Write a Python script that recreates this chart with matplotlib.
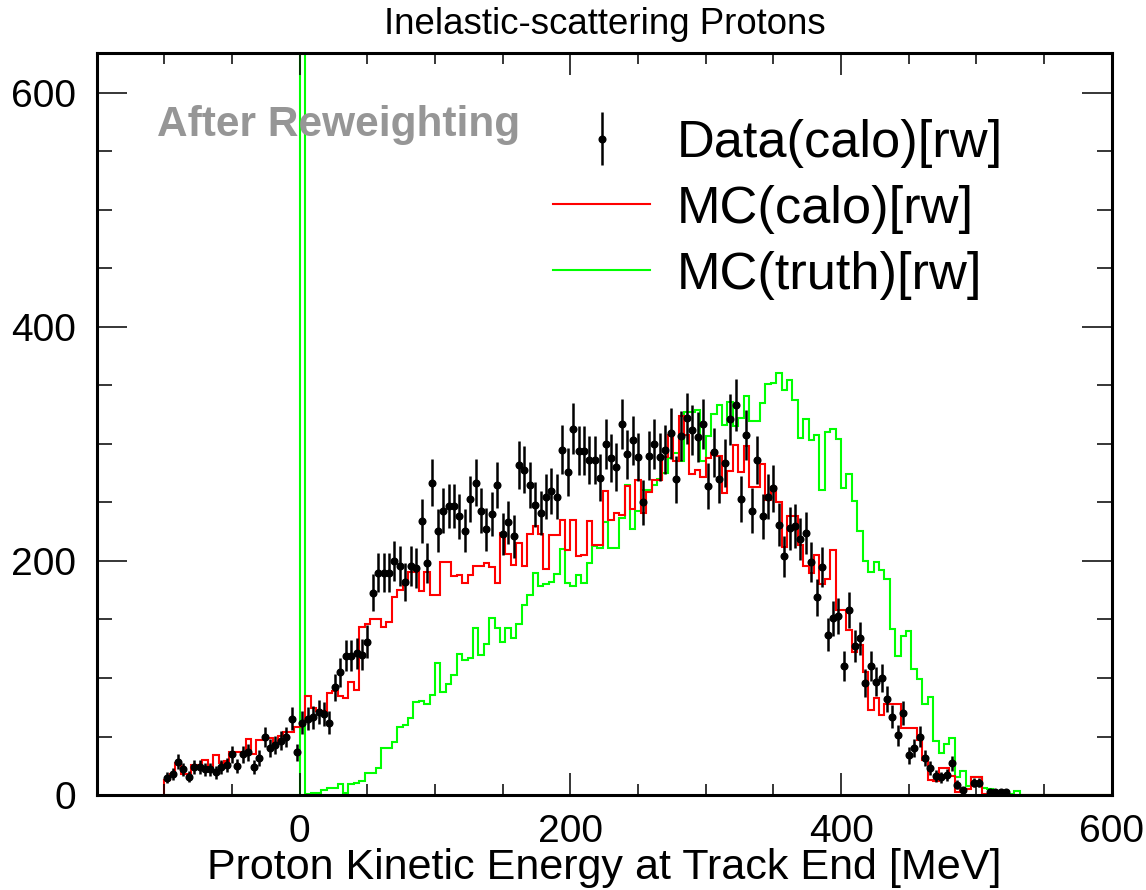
import numpy as np
import matplotlib.pyplot as plt
from matplotlib.lines import Line2D
from matplotlib.ticker import MultipleLocator

plt.rcParams['font.family'] = ['Liberation Sans', 'DejaVu Sans']

# 4 MeV bins from -100 to 600 MeV
edges = np.arange(-100, 604, 4)
centers = edges[:-1] + 2

# data points (bins 0..155)
data = [14.8, 18, 28.5, 22, 15.7, 23.6, 24, 22, 22, 19.4,
        24, 25.6, 35, 25, 35, 36.5, 23.6, 31.3, 49.3, 39.9,
        42.7, 46.4, 49.3, 65, 36.5, 61.8, 65, 66.4, 71, 69,
        61.8, 92, 105, 119, 119, 121, 120, 131, 173, 190,
        190, 190, 200, 196, 182, 196, 194, 234, 198, 267,
        226, 243, 247, 247, 238, 226, 253, 267, 243, 227,
        240, 265, 223, 233, 221, 282, 278, 265, 248, 241,
        255, 260, 255, 295, 276, 313, 294, 294, 286, 286,
        271, 300, 288, 280, 317, 291, 303, 289, 250, 290,
        300, 289, 295, 309, 270, 307, 322, 312, 306, 317,
        264, 293, 270, 284, 321, 333, 253, 308, 243, 286,
        238, 255, 262, 231, 204, 228, 230, 219, 224, 199,
        169, 195, 137, 151, 153, 110, 158, 127, 134, 96,
        110, 97, 100, 82, 67, 51, 70, 34, 40, 50,
        32, 23, 16.5, 15, 17, 27, 9, 4, np.nan, 10.5,
        10.5, np.nan, 2.3, 2.3, 2.3, 2.3]

mc_calo = [13, 18, 27, 18, 18, 26, 26, 30, 24, 34,
           27, 29, 37, 37, 37, 47.6, 35, 47, 47, 48.4,
           42.7, 50.4, 54, 54, 57.8, 61, 85, 74, 72, 72,
           87, 88.5, 85, 83, 97, 90, 144, 146, 150, 150,
           144, 148, 169, 175, 180, 191, 191, 174, 191, 171,
           171, 199, 199, 187, 188, 181, 188, 196, 196, 198.5,
           195, 181, 224, 206, 196.5, 215, 196, 223, 230, 223,
           193, 222, 222, 235, 209, 235, 204, 205, 234, 214,
           214, 260, 235, 241, 239, 264, 244, 269, 241, 259,
           269, 269, 289, 308, 285, 324, 308, 274, 278, 272,
           288, 292, 290, 258, 277, 299, 276, 298, 263, 263,
           283, 252, 263, 250, 212, 238, 238, 214, 196, 190,
           205, 180, 185, 209, 158, 158, 141, 122, 128, 105,
           73, 83, 68, 78, 78, 78, 57, 57, 57, 47,
           30, 13, 12, 23, 23, 16, 3, 4, 5, 15,
           15, 1, 1, 0.5, 0.5, 0.3, 0.3, 0, 0, 0,
           0, 0, 0, 0, 0, 0, 0, 0, 0, 0, 0, 0, 0, 0, 0]

mc_truth = [0, 0, 0, 0, 0, 0, 0, 0, 0, 0,
            0, 0, 0, 0, 0, 0, 0, 0, 0, 0,
            0, 0, 0, 0, 0, 2600, 0.5, 1.4, 2, 4.3,
            5.7, 5.7, 9.4, 1.5, 9.4, 10.5, 12, 18.5, 18.5, 22.8,
            40, 40.5, 45.6, 57.8, 60, 65.5, 79.7, 80.5, 77.5, 85.4,
            113, 88.3, 94.5, 102.5, 120.5, 115.3, 116.7, 143, 119.6, 129,
            151.5, 142.4, 131, 142.4, 133.8, 145.8, 162.3, 171, 190, 179,
            180, 182, 188.5, 210, 181, 178.5, 188, 181, 198, 213,
            211, 233, 211, 211, 237, 265, 227, 243, 261, 261,
            265, 270, 275, 288, 292, 285, 327, 327, 329, 285,
            307, 326, 333, 316, 336, 315, 322, 341, 320, 320,
            335, 351, 352, 361, 346, 355, 337.5, 305, 321, 303,
            308, 261, 310, 313, 304, 262, 274, 251.5, 226, 200,
            191, 199, 192, 185, 141.5, 119, 135.8, 140.4, 108, 98.8,
            77.7, 84, 46.4, 36.2, 44, 48.4, 15.7, 20.8, 7.7, 15,
            15, 5.7, 4.8, 2, 2, 1, 1, 3.7, 0, 0,
            0, 0, 0, 0, 0, 0, 0, 0, 0, 0, 0, 0, 0, 0, 0]

data = np.array(data, dtype=float)
data_x = centers[:len(data)]
# reweighted stat errors
data_err = 1.22 * np.sqrt(data)

fig = plt.figure(figsize=(11.46, 8.9), dpi=100)
ax = fig.add_axes([0.0844, 0.1067, 0.8857, 0.8337])

ax.stairs(mc_truth, edges, color='#00ff00', linewidth=1.5)
ax.stairs(mc_calo, edges, color='#ff0000', linewidth=1.5)
ax.errorbar(data_x, data, yerr=data_err, fmt='o', color='black',
            markersize=4.8, elinewidth=1.8, capsize=0)

ax.set_xlim(-150, 600)
ax.set_ylim(0, 634)

ax.xaxis.set_major_locator(MultipleLocator(200))
ax.xaxis.set_minor_locator(MultipleLocator(50))
ax.yaxis.set_major_locator(MultipleLocator(200))
ax.yaxis.set_minor_locator(MultipleLocator(50))
ax.tick_params(which='both', direction='in', top=True, right=True,
               width=1.1, labelsize=28)
ax.tick_params(axis='x', which='major', length=16, pad=14)
ax.tick_params(axis='x', which='minor', length=8)
ax.tick_params(axis='y', which='major', length=21.5, pad=15)
ax.tick_params(axis='y', which='minor', length=11)
for s in ax.spines.values():
    s.set_linewidth(2.2)

fig.text(0.528, 0.962, 'Inelastic-scattering Protons', ha='center',
         va='baseline', fontsize=26.4)
fig.text(0.527, 0.012, 'Proton Kinetic Energy at Track End [MeV]',
         ha='center', va='baseline', fontsize=31.1)
fig.text(157 / 1146, 1 - 125 / 890, 'After Reweighting', ha='left',
         va='center', fontsize=30.5, fontweight='bold', color='#969696')

handles = [ax.errorbar([], [], yerr=[], fmt='o', color='black',
                       markersize=4.8, elinewidth=1.8, capsize=0),
           Line2D([], [], color='#ff0000', linewidth=1.5),
           Line2D([], [], color='#00ff00', linewidth=1.5)]
labels = ['Data(calo)[rw]', 'MC(calo)[rw]', 'MC(truth)[rw]']
ax.legend(handles, labels, loc='upper left',
          bbox_to_anchor=(553 / 1146, 1 - 119 / 890),
          bbox_transform=fig.transFigure, frameon=False, fontsize=37.7,
          handlelength=1.86, handletextpad=0.5, labelspacing=0.32,
          borderaxespad=0, borderpad=0)

fig.savefig('out.png', dpi=100)
